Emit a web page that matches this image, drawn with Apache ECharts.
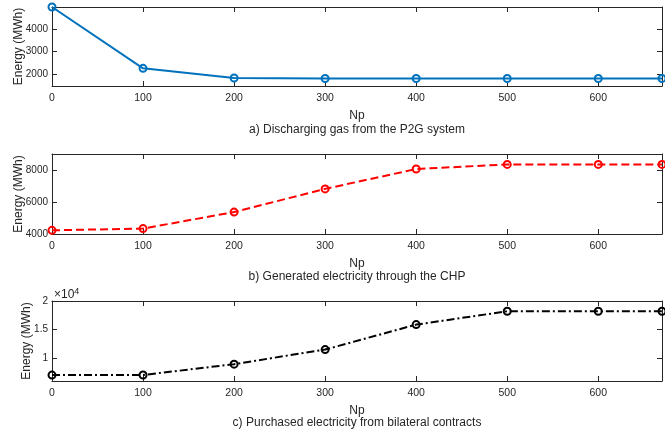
<!DOCTYPE html>
<html>
<head>
<meta charset="utf-8">
<script src="https://cdn.jsdelivr.net/npm/echarts@6/dist/echarts.min.js"></script>
<style>
  html, body { margin: 0; padding: 0; background: #fff; }
  #chart { width: 665px; height: 436px; }
</style>
</head>
<body>
<div id="chart"></div>
<script>
// Number of P2G units (Np) on the shared x axis
const np = [0, 100, 200, 300, 400, 500, 600, 670];
// a) Discharging gas from the P2G system (MWh)
const gasDischarge = [4950, 2270, 1850, 1830, 1830, 1830, 1830, 1830];
// b) Generated electricity through the CHP (MWh)
const chpElectricity = [4230, 4340, 5370, 6820, 8060, 8350, 8350, 8350];
// c) Purchased electricity from bilateral contracts (MWh)
const bilateralPurchase = [7040, 7050, 8950, 11500, 15870, 18200, 18200, 18200];

const xTicks = [0, 100, 200, 300, 400, 500, 600];
const yTicksA = [2000, 3000, 4000];
const yTicksB = [4000, 6000, 8000];
const yTicksC = [10000, 15000, 20000];

const captions = [
  'a) Discharging gas from the P2G system',
  'b) Generated electricity through the CHP',
  'c) Purchased electricity from bilateral contracts'
];

const FONT = '"Liberation Sans", Arial, Helvetica, sans-serif';
const AX = '#262626';
const GRID_LEFT = 52, GRID_RIGHT = 3;
const grids = [
  { top: 7, height: 79 },
  { top: 154, height: 80 },
  { top: 301, height: 80 }
];

function pairs(ys) { return np.map((x, i) => [x, ys[i]]); }

const xAxes = [], yAxes = [], series = [];
const yCfg = [
  { min: 1500, max: 4950, ticks: yTicksA, fmt: v => String(v), gap: 27 },
  { min: 4000, max: 9000, ticks: yTicksB, fmt: v => String(v), gap: 27 },
  { min: 6000, max: 20000, ticks: yTicksC, fmt: v => String(v / 10000), gap: 19 }
];

grids.forEach((g, i) => {
  // bottom axis with labels
  xAxes.push({
    type: 'value', gridIndex: i, min: 0, max: 670, position: 'bottom',
    name: 'Np', nameLocation: 'middle', nameGap: 24, nameMoveOverlap: false,
    nameTextStyle: { fontFamily: FONT, fontSize: 12, color: AX },
    axisLine: { show: true, lineStyle: { color: AX, width: 1 } },
    axisTick: { show: true, inside: true, length: 5, customValues: xTicks, lineStyle: { color: AX } },
    axisLabel: { show: true, customValues: xTicks, margin: 7, fontFamily: FONT, fontSize: 10.5, color: AX },
    splitLine: { show: false }
  });
  // top box edge with inward ticks
  xAxes.push({
    type: 'value', gridIndex: i, min: 0, max: 670, position: 'top',
    axisLine: { show: true, onZero: false, lineStyle: { color: AX, width: 1 } },
    axisTick: { show: true, inside: true, length: 5, customValues: xTicks, lineStyle: { color: AX } },
    axisLabel: { show: false },
    splitLine: { show: false }
  });
  const c = yCfg[i];
  yAxes.push({
    type: 'value', gridIndex: i, min: c.min, max: c.max, position: 'left',
    name: 'Energy (MWh)', nameLocation: 'middle', nameGap: c.gap, nameMoveOverlap: false,
    nameTextStyle: { fontFamily: FONT, fontSize: 12, color: AX },
    axisLine: { show: true, onZero: false, lineStyle: { color: AX, width: 1 } },
    axisTick: { show: true, inside: true, length: 5, customValues: c.ticks, lineStyle: { color: AX } },
    axisLabel: { show: true, customValues: c.ticks, margin: 4, fontFamily: FONT, fontSize: 10, color: AX, formatter: c.fmt },
    splitLine: { show: false }
  });
  yAxes.push({
    type: 'value', gridIndex: i, min: c.min, max: c.max, position: 'right',
    axisLine: { show: true, onZero: false, lineStyle: { color: AX, width: 1 } },
    axisTick: { show: true, inside: true, length: 5, customValues: c.ticks, lineStyle: { color: AX } },
    axisLabel: { show: false },
    splitLine: { show: false }
  });
});

function lineSeries(idx, data, color, dash) {
  return {
    type: 'line', xAxisIndex: idx * 2, yAxisIndex: idx * 2,
    data: pairs(data), symbol: 'circle', symbolSize: 7, clip: false,
    lineStyle: { color: color, width: 2, type: dash },
    itemStyle: { color: 'rgba(255,255,255,0)', borderColor: color, borderWidth: 2 },
    emphasis: { disabled: true },
    animation: false, z: 3
  };
}
series.push(lineSeries(0, gasDischarge, '#0072BD', 'solid'));
series.push(lineSeries(1, chpElectricity, '#FF0000', [8, 4]));
series.push(lineSeries(2, bilateralPurchase, '#000000', [8, 3, 2, 3]));

const centerX = GRID_LEFT + (665 - GRID_LEFT - GRID_RIGHT) / 2;
const captionY = [130, 277, 423];
const graphics = captions.map((t, i) => ({
  type: 'text',
  style: { text: t, x: centerX, y: captionY[i], textAlign: 'center', textVerticalAlign: 'middle',
           font: '12px ' + FONT, fill: AX }
}));
// exponent marker above the third panel's y axis
graphics.push({
  type: 'text',
  style: {
    x: 54, y: 295, textVerticalAlign: 'middle',
    rich: {
      b: { fontFamily: FONT, fontSize: 12, fill: AX, color: AX },
      s: { fontFamily: FONT, fontSize: 9, fill: AX, color: AX, verticalAlign: 'top', padding: [0, 0, 6, 0] }
    },
    text: '{b|\u00d710}{s|4}'
  }
});

const chart = echarts.init(document.getElementById('chart'), null, { renderer: 'canvas' });
chart.setOption({
  backgroundColor: '#ffffff',
  animation: false,
  grid: grids.map(g => ({
    left: GRID_LEFT, right: GRID_RIGHT, top: g.top, height: g.height,
    containLabel: false, outerBoundsMode: 'none'
  })),
  xAxis: xAxes,
  yAxis: yAxes,
  series: series,
  graphic: graphics
});
</script>
</body>
</html>
